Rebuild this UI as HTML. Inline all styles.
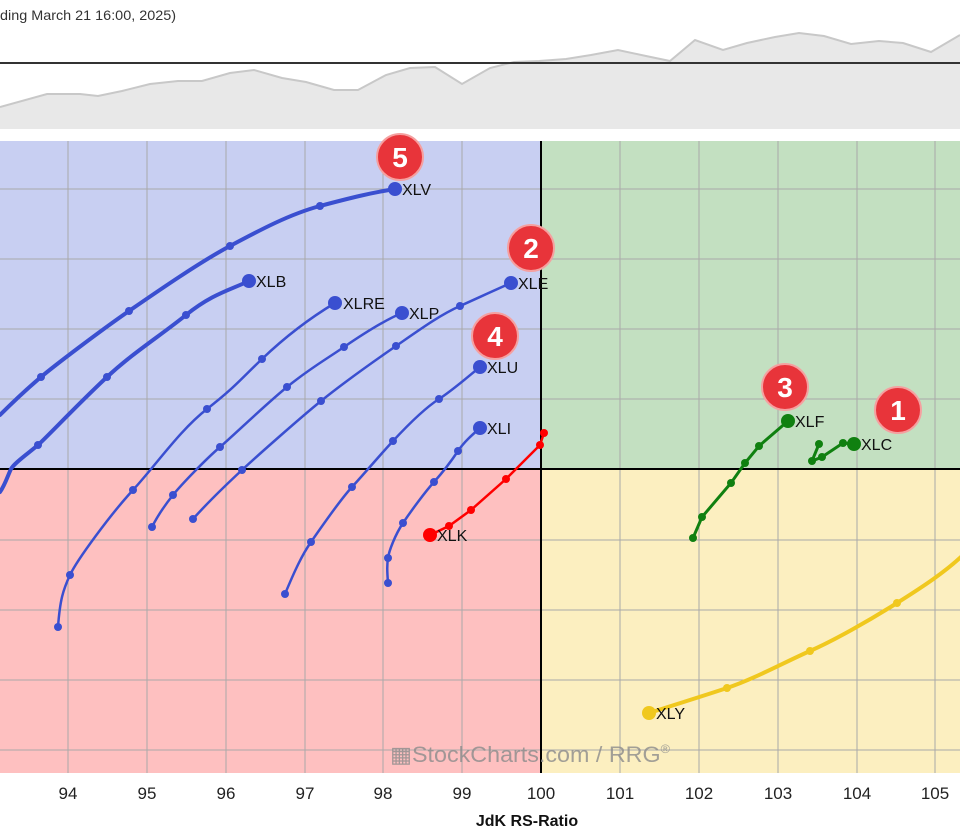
<!DOCTYPE html>
<html><head><meta charset="utf-8"><style>
html,body{margin:0;padding:0;background:#fff;}
svg{display:block;font-family:"Liberation Sans",sans-serif;}
</style></head><body>
<svg width="960" height="833" viewBox="0 0 960 833" xmlns="http://www.w3.org/2000/svg">
<rect width="960" height="833" fill="#fff"/>
<text x="0" y="20" font-size="14" fill="#333" textLength="176" lengthAdjust="spacingAndGlyphs">ding March 21 16:00, 2025)</text>
<path d="M0,107 L47,94 L80,94 L98,96 L122,91 L150,84 L178,81 L202,81 L230,73 L254,70 L282,78 L306,82 L334,90 L358,90 L386,75 L410,68 L435,67 L462,84 L490,68 L514,62 L539,61 L566,59 L591,55 L618,50 L646,56 L670,61 L695,40 L723,50 L747,43 L775,37 L799,33 L824,36 L851,44 L879,41 L903,43 L931,52 L960,35 L960,129 L0,129 Z" fill="#e8e8e8"/>
<path d="M0,107 L47,94 L80,94 L98,96 L122,91 L150,84 L178,81 L202,81 L230,73 L254,70 L282,78 L306,82 L334,90 L358,90 L386,75 L410,68 L435,67 L462,84 L490,68 L514,62 L539,61 L566,59 L591,55 L618,50 L646,56 L670,61 L695,40 L723,50 L747,43 L775,37 L799,33 L824,36 L851,44 L879,41 L903,43 L931,52 L960,35" fill="none" stroke="#c8c8c8" stroke-width="2"/>
<line x1="0" y1="63" x2="960" y2="63" stroke="#333" stroke-width="2"/>
<rect x="0" y="141" width="541" height="328" fill="#c8cff2"/>
<rect x="541" y="141" width="419" height="328" fill="#c3e0c1"/>
<rect x="0" y="469" width="541" height="304" fill="#fec0c0"/>
<rect x="541" y="469" width="419" height="304" fill="#fcefc0"/>
<g stroke="#a9a9a9" stroke-width="1">
<line x1="68" y1="141" x2="68" y2="773"/><line x1="147" y1="141" x2="147" y2="773"/><line x1="226" y1="141" x2="226" y2="773"/><line x1="305" y1="141" x2="305" y2="773"/><line x1="383" y1="141" x2="383" y2="773"/><line x1="462" y1="141" x2="462" y2="773"/><line x1="620" y1="141" x2="620" y2="773"/><line x1="699" y1="141" x2="699" y2="773"/><line x1="778" y1="141" x2="778" y2="773"/><line x1="857" y1="141" x2="857" y2="773"/><line x1="935" y1="141" x2="935" y2="773"/>
<line x1="0" y1="189" x2="960" y2="189"/><line x1="0" y1="259" x2="960" y2="259"/><line x1="0" y1="329" x2="960" y2="329"/><line x1="0" y1="399" x2="960" y2="399"/><line x1="0" y1="540" x2="960" y2="540"/><line x1="0" y1="610" x2="960" y2="610"/><line x1="0" y1="680" x2="960" y2="680"/><line x1="0" y1="750" x2="960" y2="750"/>
</g>
<line x1="0" y1="469" x2="960" y2="469" stroke="#000" stroke-width="2"/>
<line x1="541" y1="141" x2="541" y2="773" stroke="#000" stroke-width="2"/>
<text x="390" y="762" font-size="22" fill="#8c8c8c" opacity="0.8" textLength="280" lengthAdjust="spacingAndGlyphs">▦StockCharts.com / RRG<tspan font-size="12" dy="-9">®</tspan></text>
<g fill="none" stroke="#3a4fd0" stroke-linejoin="round" stroke-linecap="round">
<path stroke-width="4" d="M0,415 C15,400 28,388 41,377 S100,331 129,311 S200,262 230,246 S290,214 320,206 S370,193 395,189"/>
<path stroke-width="4" d="M0,492 C5,485 8,475 11,469 S30,452 38,445 S80,402 107,377 S160,336 186,315 S230,290 249,281"/>
<path stroke-width="2.5" d="M58,627 C60,600 63,590 70,575 S110,515 133,490 S180,430 207,409 S240,380 262,359 S310,318 335,303"/>
<path stroke-width="2.5" d="M152,527 C158,515 165,505 173,495 S205,460 220,447 S265,405 287,387 S325,360 344,347 S385,320 402,313"/>
<path stroke-width="2.5" d="M193,519 C210,500 228,483 242,470 S300,418 321,401 S370,364 396,346 S440,315 460,306 S495,290 511,283"/>
<path stroke-width="2.5" d="M285,594 C295,570 302,555 311,542 S340,500 352,487 S380,455 393,441 S425,408 439,399 S470,375 480,367"/>
<path stroke-width="2.5" d="M388,583 C387,570 387,565 388,558 S395,535 403,523 S425,492 434,482 S452,460 458,451 S472,435 480,428"/>
</g>
<g fill="#3a4fd0">
<circle cx="41" cy="377" r="4"/><circle cx="129" cy="311" r="4"/><circle cx="230" cy="246" r="4"/><circle cx="320" cy="206" r="4"/><circle cx="395" cy="189" r="7"/>
<circle cx="38" cy="445" r="4"/><circle cx="107" cy="377" r="4"/><circle cx="186" cy="315" r="4"/><circle cx="249" cy="281" r="7"/>
<circle cx="58" cy="627" r="4"/><circle cx="70" cy="575" r="4"/><circle cx="133" cy="490" r="4"/><circle cx="207" cy="409" r="4"/><circle cx="262" cy="359" r="4"/><circle cx="335" cy="303" r="7"/>
<circle cx="152" cy="527" r="4"/><circle cx="173" cy="495" r="4"/><circle cx="220" cy="447" r="4"/><circle cx="287" cy="387" r="4"/><circle cx="344" cy="347" r="4"/><circle cx="402" cy="313" r="7"/>
<circle cx="193" cy="519" r="4"/><circle cx="242" cy="470" r="4"/><circle cx="321" cy="401" r="4"/><circle cx="396" cy="346" r="4"/><circle cx="460" cy="306" r="4"/><circle cx="511" cy="283" r="7"/>
<circle cx="285" cy="594" r="4"/><circle cx="311" cy="542" r="4"/><circle cx="352" cy="487" r="4"/><circle cx="393" cy="441" r="4"/><circle cx="439" cy="399" r="4"/><circle cx="480" cy="367" r="7"/>
<circle cx="388" cy="583" r="4"/><circle cx="388" cy="558" r="4"/><circle cx="403" cy="523" r="4"/><circle cx="434" cy="482" r="4"/><circle cx="458" cy="451" r="4"/><circle cx="480" cy="428" r="7"/>
</g>
<path d="M430,535 L449,526 L471,510 L506,479 L540,445 L544,433" fill="none" stroke="#f00" stroke-width="2.5"/>
<g fill="#f00"><circle cx="430" cy="535" r="7"/><circle cx="449" cy="526" r="4"/><circle cx="471" cy="510" r="4"/><circle cx="506" cy="479" r="4"/><circle cx="540" cy="445" r="4"/><circle cx="544" cy="433" r="4"/></g>
<path d="M693,538 L702,517 L731,483 L745,463 L759,446 L788,421" fill="none" stroke="#108010" stroke-width="3"/>
<path d="M819,444 L812,461 L822,457 L843,443 L854,444" fill="none" stroke="#108010" stroke-width="3"/>
<g fill="#108010"><circle cx="693" cy="538" r="4"/><circle cx="702" cy="517" r="4"/><circle cx="731" cy="483" r="4"/><circle cx="745" cy="463" r="4"/><circle cx="759" cy="446" r="4"/><circle cx="788" cy="421" r="7"/>
<circle cx="819" cy="444" r="4"/><circle cx="812" cy="461" r="4"/><circle cx="822" cy="457" r="4"/><circle cx="843" cy="443" r="4"/><circle cx="854" cy="444" r="7"/></g>
<path d="M649,713 C680,703 700,697 727,688 S785,662 810,651 S870,620 897,603 S945,572 962,556" fill="none" stroke="#f0c81e" stroke-width="4"/>
<g fill="#f0c81e"><circle cx="649" cy="713" r="7"/><circle cx="727" cy="688" r="4"/><circle cx="810" cy="651" r="4"/><circle cx="897" cy="603" r="4"/></g>
<g font-size="16" fill="#111">
<text x="402" y="195">XLV</text><text x="256" y="287">XLB</text><text x="343" y="309">XLRE</text><text x="409" y="319">XLP</text><text x="518" y="289">XLE</text><text x="487" y="373">XLU</text><text x="487" y="434">XLI</text><text x="437" y="541">XLK</text><text x="795" y="427">XLF</text><text x="861" y="450">XLC</text><text x="656" y="719">XLY</text>
</g>
<g>
<circle cx="400" cy="157" r="23" fill="#e8343a" stroke="#f5a0a0" stroke-width="2"/><text x="400" y="167" font-size="28" font-weight="bold" fill="#fff" text-anchor="middle">5</text>
<circle cx="531" cy="248" r="23" fill="#e8343a" stroke="#f5a0a0" stroke-width="2"/><text x="531" y="258" font-size="28" font-weight="bold" fill="#fff" text-anchor="middle">2</text>
<circle cx="495" cy="336" r="23" fill="#e8343a" stroke="#f5a0a0" stroke-width="2"/><text x="495" y="346" font-size="28" font-weight="bold" fill="#fff" text-anchor="middle">4</text>
<circle cx="785" cy="387" r="23" fill="#e8343a" stroke="#f5a0a0" stroke-width="2"/><text x="785" y="397" font-size="28" font-weight="bold" fill="#fff" text-anchor="middle">3</text>
<circle cx="898" cy="410" r="23" fill="#e8343a" stroke="#f5a0a0" stroke-width="2"/><text x="898" y="420" font-size="28" font-weight="bold" fill="#fff" text-anchor="middle">1</text>
</g>
<g font-size="17" fill="#222" text-anchor="middle">
<text x="-11" y="799">93</text><text x="68" y="799">94</text><text x="147" y="799">95</text><text x="226" y="799">96</text><text x="305" y="799">97</text><text x="383" y="799">98</text><text x="462" y="799">99</text><text x="541" y="799">100</text><text x="620" y="799">101</text><text x="699" y="799">102</text><text x="778" y="799">103</text><text x="857" y="799">104</text><text x="935" y="799">105</text>
</g>
<text x="527" y="826" font-size="16" font-weight="bold" fill="#111" text-anchor="middle">JdK RS-Ratio</text>
</svg>
</body></html>
